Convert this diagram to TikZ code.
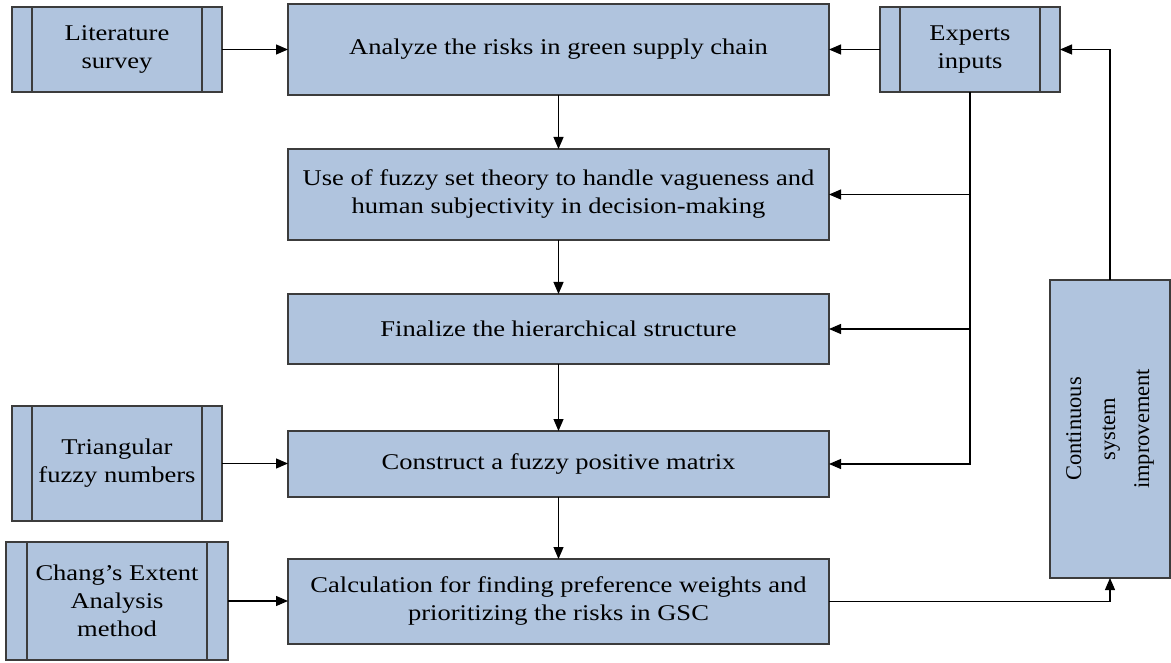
\documentclass[tikz,border=0pt]{standalone}
\usepackage{fontspec}
\setmainfont[FakeStretch=1.18]{Liberation Serif}
\newfontfamily\uprightserif{Liberation Serif}
\usetikzlibrary{arrows.meta}
\definecolor{boxfill}{RGB}{176,196,222}
\definecolor{boxline}{RGB}{60,60,60}
\begin{document}
\begin{tikzpicture}[x=1pt,y=-1pt,
  every node/.style={font=\fontsize{22.5}{28}\selectfont},
  procbox/.style={draw=boxline,line width=1.3pt,fill=boxfill,align=center,
    inner sep=0pt,outer sep=0pt},
  flow/.style={draw=black,line width=1.1pt,-{Triangle[length=12pt,width=10pt]}},
  plain/.style={draw=black,line width=1.1pt}]
\useasboundingbox (0,0) rectangle (1171,663);

% main process chain
\node[procbox,minimum width=541pt,minimum height=91pt] (b1) at (558.5,49.5)
  {Analyze the risks in green supply chain};
\node[procbox,minimum width=541pt,minimum height=91pt] (b2) at (558.5,194.5)
  {Use of fuzzy set theory to handle vagueness and\\human subjectivity in decision-making};
\node[procbox,minimum width=541pt,minimum height=70pt] (b3) at (558.5,329)
  {Finalize the hierarchical structure};
\node[procbox,minimum width=541pt,minimum height=66pt] (b4) at (558.5,464)
  {Construct a fuzzy positive matrix};
\node[procbox,minimum width=541pt,minimum height=85pt] (b5) at (558.5,601.5)
  {Calculation for finding preference weights and\\prioritizing the risks in GSC};

% predefined-process inputs
\node[procbox,minimum width=210pt,minimum height=85pt] (lit) at (117,49.5)
  {Literature\\survey};
\node[procbox,minimum width=180pt,minimum height=85pt] (exp) at (970,49.5)
  {Experts\\inputs};
\node[procbox,minimum width=210pt,minimum height=115pt] (tri) at (117,463.5)
  {Triangular\\fuzzy numbers};
\node[procbox,minimum width=222pt,minimum height=118pt] (chg) at (117,601)
  {Chang's Extent\\Analysis\\method};
\node[procbox,minimum width=120pt,minimum height=298pt] (cont) at (1110,429) {};
\node[rotate=90,align=center,font=\uprightserif\fontsize{22.5}{34}\selectfont]
  (contlbl) at (cont.center) {Continuous\\system\\improvement};

% side bars of the predefined-process boxes
\foreach \n/\d in {lit/20,exp/20,tri/20,chg/21}{
  \draw[draw=boxline,line width=1.3pt] ([xshift=\d pt]\n.north west) -- ([xshift=\d pt]\n.south west);
  \draw[draw=boxline,line width=1.3pt] ([xshift=-\d pt]\n.north east) -- ([xshift=-\d pt]\n.south east);
}

% connectors
\draw[flow] (b1) -- (b2);
\draw[flow] (b2) -- (b3);
\draw[flow] (b3) -- (b4);
\draw[flow] (b4) -- (b5);
\draw[flow] (lit.east) -- (lit.east -| b1.west);
\draw[flow] (exp.west) -- (exp.west -| b1.east);
\draw[flow] (tri.east) -- (tri.east -| b4.west);
\draw[flow] (chg.east) -- (chg.east -| b5.west);
\coordinate (j2) at (exp.south |- b2.east);
\coordinate (j3) at (exp.south |- b3.east);
\draw[flow] (exp.south) |- (b4.east);
\draw[flow] (j2) -- (b2.east);
\draw[flow] (j3) -- (b3.east);
\draw[flow] (b5.east) -| (cont.south);
\draw[flow] (cont.north) |- (exp.east);
\end{tikzpicture}
\end{document}
